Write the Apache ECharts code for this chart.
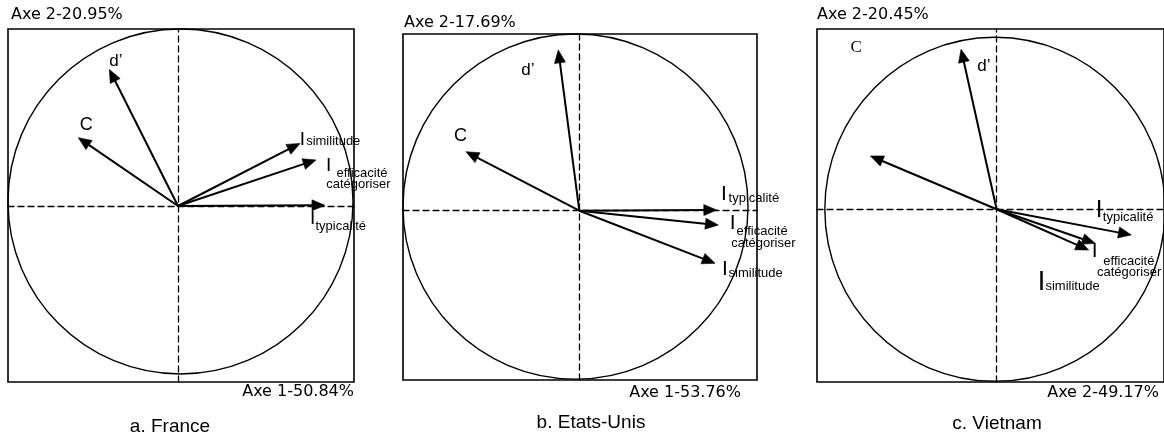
<!DOCTYPE html>
<html><head><meta charset="utf-8">
<script src="https://cdn.jsdelivr.net/npm/echarts@6/dist/echarts.min.js"></script>
<style>html,body{margin:0;padding:0;background:#fff}#chart{width:1164px;height:437px}</style>
</head><body><div id="chart"></div>
<script>
// ---------- data ----------
const panelTitles = ['a. France', 'b. Etats-Unis', 'c. Vietnam'];
const axis2Names = ['Axe 2-20.95%', 'Axe 2-17.69%', 'Axe 2-20.45%'];
const axis1Names = ['Axe 1-50.84%', 'Axe 1-53.76%', 'Axe 2-49.17%'];
const variables = ['d’', 'C', 'I typicalité', 'I efficacité catégoriser', 'I similitude'];
const labelTexts = [['d’'], ['C'], ['I', 'typicalité'], ['I', 'efficacité', 'catégoriser'], ['I', 'similitude']];
const franceAxis1 = [-0.398, -0.578, 0.852, 0.800, 0.707];
const franceAxis2 = [0.792, 0.396, 0.004, 0.267, 0.363];
const usAxis1 = [-0.122, -0.657, 0.797, 0.806, 0.787];
const usAxis2 = [0.932, 0.342, 0.004, -0.083, -0.305];
const vietnamAxis1 = [-0.209, -0.742, 0.792, 0.579, 0.541];
const vietnamAxis2 = [0.930, 0.310, -0.149, -0.198, -0.237];

// ---------- layout / style ----------
const SANS = '"Liberation Sans", Arial, sans-serif';
const SERIF = '"Liberation Serif", "Times New Roman", serif';
// label part offsets from arrow tip: [dx, dy, fontSize, family]
const franceLabels = [
  [[0, -8.5, 17]],
  [[1.5, -12.2, 18]],
  [[-15, 13.7, 19], [-9.5, 20.8, 13]],
  [[10, 5.4, 19], [20.5, 13.5, 13], [10.2, 24.5, 13]],
  [[-0.3, -4, 19], [6.2, -1.8, 13]]
];
const usLabels = [
  [[-37, 20, 17]],
  [[-12, -15.7, 18]],
  [[4.3, -15.6, 21], [11.8, -11.5, 13]],
  [[11.4, -2.3, 21], [18.2, 6.5, 13], [12.9, 18.5, 13]],
  [[7, 6.1, 21], [13.5, 10.2, 13]]
];
const vietnamLabels = [
  [[16.2, 17.5, 17]],
  [[-20, -108, 17, SERIF]],
  [[-35.5, -24.3, 24], [-28.5, -17.5, 13]],
  [[-3.3, 7.4, 21], [8.2, 18.2, 13], [1.9, 29.2, 13]],
  [[-51, 32.3, 27], [-43.2, 36.5, 13]]
];

const panels = [
  { xs: franceAxis1, ys: franceAxis2, labels: franceLabels, circle: [0.0145, 0.026],
    grid: { left: 8, top: 29, width: 346, height: 353 }, xr: [-0.9855, 1.0203], yr: [-1.0203, 1.0261],
    a2: { x: 11, y: 15, align: 'left' }, a1: { x: 354, y: 392, align: 'right' }, title: { x: 170, y: 427 } },
  { xs: usAxis1, ys: usAxis2, labels: usLabels, circle: [-0.022, 0.024],
    grid: { left: 403, top: 34, width: 354, height: 346 }, xr: [-1.022, 1.030], yr: [-0.981, 1.024],
    a2: { x: 404, y: 23, align: 'left' }, a1: { x: 741, y: 393, align: 'right' }, title: { x: 591, y: 423 } },
  { xs: vietnamAxis1, ys: vietnamAxis2, labels: vietnamLabels, circle: [-0.01, 0],
    grid: { left: 817, top: 29, width: 351, height: 353 }, xr: [-1.056, 0.984], yr: [-1.004, 1.048],
    a2: { x: 817, y: 15, align: 'left' }, a1: { x: 1159, y: 393, align: 'right' }, title: { x: 997, y: 424 } }
];

const dashed = { show: true, onZero: true, lineStyle: { color: '#000', width: 1.3, type: [6, 4] } };
const AXIS_FONT = '16px "DejaVu Sans", Verdana, sans-serif';
const TITLE_FONT = '19px "Liberation Sans", Arial, sans-serif';

function arrowRenderer(layout) {
  return function (params, api) {
    const k = api.value(2);
    const o = api.coord([0, 0]);
    const t = api.coord([api.value(0), api.value(1)]);
    const ang = Math.atan2(t[1] - o[1], t[0] - o[0]);
    const L = 13, W = 5.5;
    const bx = t[0] - L * Math.cos(ang), by = t[1] - L * Math.sin(ang);
    const px = -Math.sin(ang), py = Math.cos(ang);
    const children = [
      { type: 'line', shape: { x1: o[0], y1: o[1], x2: bx + 2 * Math.cos(ang), y2: by + 2 * Math.sin(ang) },
        style: { stroke: '#000', lineWidth: 2 } },
      { type: 'polygon', shape: { points: [[t[0], t[1]], [bx + W * px, by + W * py], [bx - W * px, by - W * py]] },
        style: { fill: '#000', stroke: '#000', lineWidth: 0.6, lineJoin: 'miter' } }
    ];
    labelTexts[k].forEach(function (txt, j) {
      const p = layout[k][j];
      children.push({ type: 'text', x: t[0] + p[0], y: t[1] + p[1],
        style: { text: txt, fontSize: p[2], fontFamily: p[3] || SANS, fill: '#000', align: 'left', verticalAlign: 'middle' } });
    });
    return { type: 'group', children: children };
  };
}

const series = [];
const graphic = [];
panels.forEach(function (p, i) {
  series.push({
    type: 'custom', xAxisIndex: i, yAxisIndex: i, silent: true, clip: false, z: 2,
    data: [p.circle],
    renderItem: function (params, api) {
      const c = api.coord([api.value(0), api.value(1)]);
      const s = api.size([1, 1]);
      return { type: 'ellipse', shape: { cx: c[0], cy: c[1], rx: s[0], ry: s[1] },
        style: { fill: 'none', stroke: '#000', lineWidth: 1.4 } };
    }
  });
  series.push({
    type: 'custom', xAxisIndex: i, yAxisIndex: i, silent: true, clip: false, z: 3,
    name: panelTitles[i],
    data: p.xs.map(function (v, k) { return [v, p.ys[k], k]; }),
    renderItem: arrowRenderer(p.labels)
  });
  graphic.push({ type: 'text', x: p.a2.x, y: p.a2.y, silent: true,
    style: { text: axis2Names[i], font: AXIS_FONT, fill: '#000', align: p.a2.align, verticalAlign: 'middle' } });
  graphic.push({ type: 'text', x: p.a1.x, y: p.a1.y, silent: true,
    style: { text: axis1Names[i], font: AXIS_FONT, fill: '#000', align: p.a1.align, verticalAlign: 'middle' } });
  graphic.push({ type: 'text', x: p.title.x, y: p.title.y, silent: true,
    style: { text: panelTitles[i], font: TITLE_FONT, fill: '#000', align: 'center', verticalAlign: 'middle' } });
});

const option = {
  animation: false,
  backgroundColor: '#fff',
  grid: panels.map(function (p) {
    return Object.assign({ show: true, borderColor: '#000', borderWidth: 1.6, backgroundColor: 'transparent', containLabel: false }, p.grid);
  }),
  xAxis: panels.map(function (p, i) {
    return { type: 'value', gridIndex: i, min: p.xr[0], max: p.xr[1], axisLine: dashed,
      axisTick: { show: false }, axisLabel: { show: false }, splitLine: { show: false } };
  }),
  yAxis: panels.map(function (p, i) {
    return { type: 'value', gridIndex: i, min: p.yr[0], max: p.yr[1], axisLine: dashed,
      axisTick: { show: false }, axisLabel: { show: false }, splitLine: { show: false } };
  }),
  series: series,
  graphic: graphic
};

const chart = echarts.init(document.getElementById('chart'), null, { renderer: 'canvas', width: 1164, height: 437 });
chart.setOption(option);
</script>
</body></html>
